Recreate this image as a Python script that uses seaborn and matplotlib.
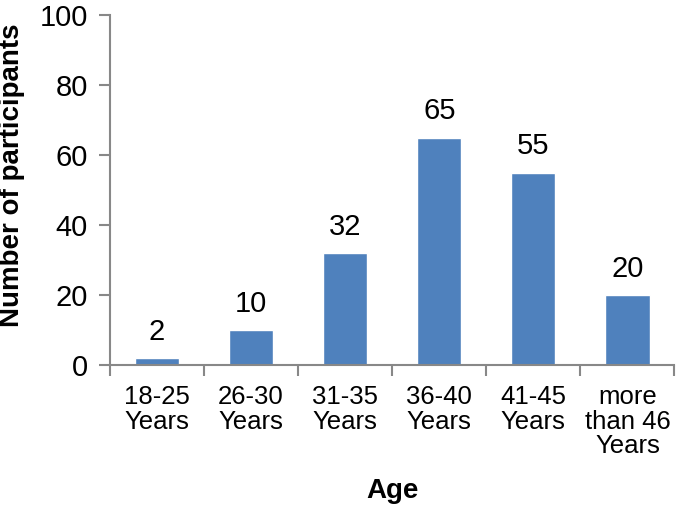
import pandas as pd
import matplotlib.pyplot as plt
import seaborn as sns

sns.set_style('white')
plt.rcParams['font.family'] = ['Liberation Sans', 'DejaVu Sans']
plt.rcParams['text.color'] = 'black'
plt.rcParams['axes.labelcolor'] = 'black'

# Data
age_groups = ['18-25\nYears', '26-30\nYears', '31-35\nYears', '36-40\nYears',
              '41-45\nYears', 'more\nthan 46\nYears']
participants = [2, 10, 32, 65, 55, 20]

df = pd.DataFrame({'Age': age_groups, 'Participants': participants})

fig = plt.figure(figsize=(6.85, 5.05), dpi=100)
ax = fig.add_axes([0.1606, 0.277, 0.824, 0.693])
sns.barplot(x='Age', y='Participants', data=df, color='#4F81BD', width=0.47,
            saturation=1, ax=ax)

for container in ax.containers:
    ax.bar_label(container, fontsize=21, padding=9, color='black')

ax.set_ylim(0, 100)
ax.set_yticks(range(0, 101, 20))
ax.set_xlim(-0.5, len(age_groups) - 0.5)
ax.set_xticks([i - 0.5 for i in range(len(age_groups) + 1)], minor=True)
ax.tick_params(axis='x', which='major', length=0, pad=14, labelsize=18.5,
               labelcolor='black')
ax.tick_params(axis='x', which='minor', length=8, width=1.5, color='#888888',
               direction='out', bottom=True)
ax.tick_params(axis='y', length=8, width=1.5, color='#888888', direction='out',
               left=True, pad=8, labelsize=21, labelcolor='black')
for lbl in ax.get_xticklabels():
    lbl.set_linespacing(1.05)

for side in ['top', 'right']:
    ax.spines[side].set_visible(False)
for side in ['left', 'bottom']:
    ax.spines[side].set_color('#888888')
    ax.spines[side].set_linewidth(1.5)

ax.set_xlabel('Age', fontsize=20, fontweight='bold', labelpad=14)
ax.set_ylabel('Number of participants', fontsize=20, fontweight='bold')
ax.yaxis.set_label_coords(-0.15, 0.543)

plt.savefig('out.png', dpi=100)
